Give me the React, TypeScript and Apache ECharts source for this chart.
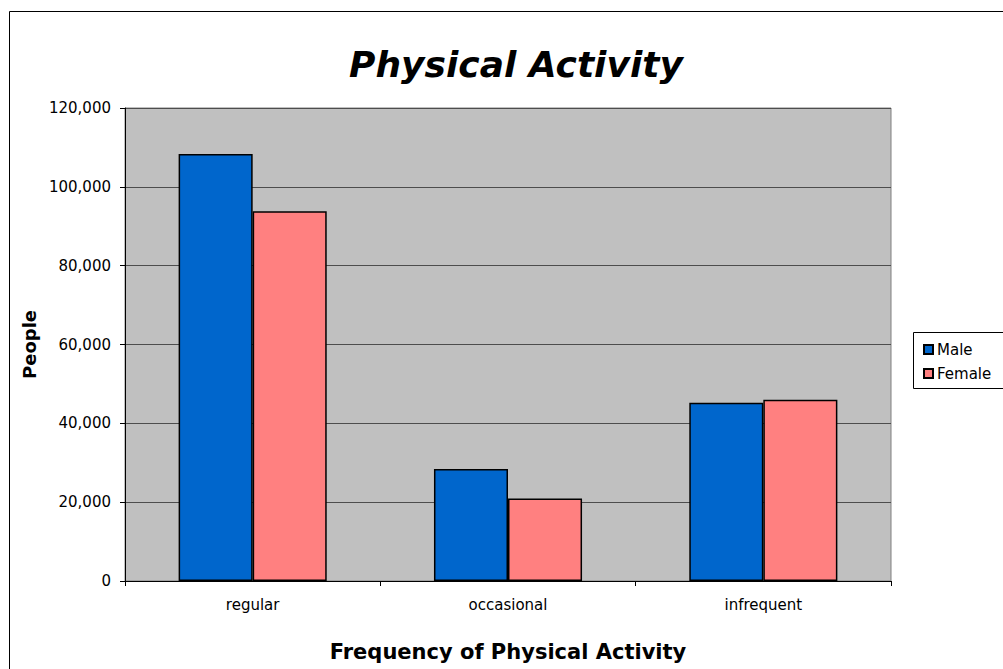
import React, { useEffect, useRef } from "react";
import * as echarts from "echarts";

const categories = ["regular", "occasional", "infrequent"];
const maleValues = [108300, 28400, 45200];
const femaleValues = [93800, 20900, 46000];
const yTicks = [0, 20000, 40000, 60000, 80000, 100000, 120000];

const fmt = (v: number) => v.toLocaleString("en-US");

export default function App() {
  const ref = useRef<HTMLDivElement>(null);

  useEffect(() => {
    document.body.style.margin = "0";
    const chart = echarts.init(ref.current!, null, { renderer: "svg" });
    const font = "DejaVu Sans, Verdana, sans-serif";
    chart.setOption({
      animation: false,
      backgroundColor: "#ffffff",
      textStyle: { fontFamily: font },
      title: {
        text: "Physical Activity",
        left: 511,
        top: 41,
        textAlign: "center",
        textStyle: {
          fontSize: 36,
          fontWeight: "bold",
          fontStyle: "italic",
          color: "#000",
          fontFamily: font,
        },
      },
      graphic: [
        {
          type: "rect",
          shape: { x: 9.5, y: 11.5, width: 1200, height: 1000 },
          style: { fill: "none", stroke: "#000", lineWidth: 1 },
          z: 100,
        },
        {
          type: "rect",
          shape: { x: 913.5, y: 332.5, width: 200, height: 56 },
          style: { fill: "#fff", stroke: "#000", lineWidth: 1 },
          z: 1,
        },
      ],
      legend: {
        left: 918,
        top: 337,
        orient: "vertical",
        itemWidth: 9,
        itemHeight: 9,
        itemGap: 9,
        icon: "rect",
        z: 5,
        textStyle: { fontSize: 15, color: "#000", fontFamily: font, padding: [0, 0, 0, -1] },
        data: ["Male", "Female"],
      },
      grid: {
        left: 125,
        right: 112,
        top: 108,
        bottom: 88,
        containLabel: false,
        outerBoundsMode: "none",
        show: true,
        backgroundColor: "#C0C0C0",
        borderColor: "#808080",
        borderWidth: 1,
      },
      xAxis: {
        type: "category",
        data: categories,
        name: "Frequency of Physical Activity",
        nameLocation: "middle",
        nameGap: 60,
        nameTextStyle: { fontSize: 21, fontWeight: "bold", color: "#000", fontFamily: font },
        axisLine: { lineStyle: { color: "#000", width: 1 } },
        axisTick: { show: true, length: 5, lineStyle: { color: "#000" } },
        axisLabel: { color: "#000", fontSize: 15, margin: 16 },
      },
      yAxis: {
        type: "value",
        min: 0,
        max: 120000,
        interval: 20000,
        name: "People",
        nameLocation: "middle",
        nameGap: 84,
        nameRotate: 90,
        nameTextStyle: { fontSize: 18, fontWeight: "bold", color: "#000", fontFamily: font },
        axisLine: { show: true, lineStyle: { color: "#000", width: 1 } },
        axisTick: { show: true, length: 5, lineStyle: { color: "#000" } },
        axisLabel: {
          color: "#000",
          fontSize: 15,
          margin: 14,
          formatter: (v: number) => (yTicks.includes(v) ? fmt(v) : ""),
        },
        splitLine: { show: true, lineStyle: { color: "#4d4d4d", width: 1 } },
      },
      series: [
        {
          name: "Male",
          type: "bar",
          data: maleValues,
          barGap: "0%",
          barCategoryGap: "42%",
          itemStyle: { color: "#0066CC", borderColor: "#000", borderWidth: 1.5 },
        },
        {
          name: "Female",
          type: "bar",
          data: femaleValues,
          itemStyle: { color: "#FF8080", borderColor: "#000", borderWidth: 1.5 },
        },
      ],
    });
    return () => chart.dispose();
  }, []);

  return <div ref={ref} style={{ width: 1003, height: 669 }} />;
}
